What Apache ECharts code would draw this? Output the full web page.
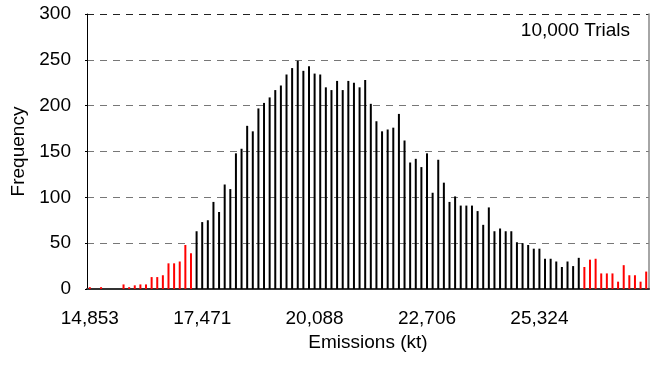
<!DOCTYPE html>
<html>
<head>
<meta charset="utf-8">
<script src="https://cdn.jsdelivr.net/npm/echarts@6/dist/echarts.min.js"></script>
<style>
	html, body { margin: 0; padding: 0; background: #fff; }
	#chart { width: 663px; height: 365px; }
</style>
</head>
<body>
<div id="chart"></div>
<script>
	// bins 0-18 (red lower tail)
	var lowTail = [2, 0, 2, 0, 0, 0, 5, 2, 4, 5, 5, 13, 13, 15, 28, 28, 30, 48, 39];
	// bins 19-87 (black core)
	var core = [63, 73, 75, 95, 84, 114, 109, 148, 153, 178,
		172, 197, 203, 209, 217, 222, 234, 241, 249, 238,
		243, 235, 234, 220, 217, 227, 217, 227, 225, 220,
		228, 202, 183, 172, 174, 176, 191, 162, 138, 142,
		133, 148, 105, 141, 116, 95, 101, 91, 91, 91,
		85, 70, 89, 63, 66, 63, 63, 51, 50, 48,
		44, 44, 33, 33, 30, 24, 30, 25, 34];
	// bins 88-99 (red upper tail)
	var highTail = [24, 32, 33, 17, 17, 17, 8, 26, 15, 15, 8, 19];
	var tickLabels = ['14,853', '17,471', '20,088', '22,706', '25,324'];

	var nBins = lowTail.length + core.length + highTail.length;
	var bins = [];
	for (var i = 0; i < nBins; i++) {
		bins.push(i);
	}
	var redData = [];
	var blackData = [];
	for (var i = 0; i < nBins; i++) {
		if (i < lowTail.length) {
			redData.push(lowTail[i]);
			blackData.push('-');
		} else if (i < lowTail.length + core.length) {
			redData.push('-');
			blackData.push(core[i - lowTail.length]);
		} else {
			redData.push(highTail[i - lowTail.length - core.length]);
			blackData.push('-');
		}
	}

	var font = 'Liberation Sans, Arial, sans-serif';
	var fs = 19;
	var myChart = echarts.init(document.getElementById('chart'));
	var option = {
		animation: false,
		textStyle: { fontFamily: font },
		grid: { left: 87, right: 14, top: 14, bottom: 76 },
		graphic: [{
			type: 'text',
			x: 630,
			y: 31,
			style: {
				text: '10,000 Trials',
				fontFamily: font,
				fontSize: fs,
				fill: '#000',
				align: 'right',
				verticalAlign: 'middle'
			}
		}],
		xAxis: {
			type: 'category',
			data: bins,
			boundaryGap: true,
			name: 'Emissions (kt)',
			nameLocation: 'middle',
			nameGap: 43,
			nameTextStyle: { fontFamily: font, fontSize: fs, color: '#000' },
			axisLine: { lineStyle: { color: '#333', width: 2 } },
			axisTick: {
				inside: true,
				length: 4,
				interval: function (index) { return index % 10 === 0; },
				lineStyle: { color: '#999' }
			},
			axisLabel: {
				interval: function (index) { return index % 20 === 0; },
				formatter: function (v, index) { return tickLabels[index / 20] || ''; },
				margin: 20,
				fontFamily: font,
				fontSize: fs,
				color: '#000'
			},
			splitLine: { show: false }
		},
		yAxis: [{
			type: 'value',
			min: 0,
			max: 300,
			interval: 50,
			name: 'Frequency',
			nameLocation: 'middle',
			nameGap: 56,
			nameTextStyle: { fontFamily: font, fontSize: fs, color: '#000' },
			axisLine: { show: true, lineStyle: { color: '#000', width: 1 } },
			axisTick: { show: true, length: 2, lineStyle: { color: '#000' } },
			axisLabel: { margin: 16, fontFamily: font, fontSize: fs, color: '#000' },
			splitLine: {
				show: true,
				lineStyle: {
					color: ['#777', '#777', '#777', '#777', '#777', '#777', '#222'],
					type: [7, 6]
				}
			}
		}, {
			type: 'value',
			position: 'right',
			min: 0,
			max: 300,
			interval: 50,
			axisLine: { show: true, lineStyle: { color: '#888', width: 1.5 } },
			axisTick: { show: false },
			axisLabel: { show: false },
			splitLine: { show: false }
		}],
		series: [{
			name: 'tail',
			type: 'bar',
			data: redData,
			barWidth: 2,
			barGap: '-100%',
			itemStyle: { color: '#ff0000' }
		}, {
			name: 'core',
			type: 'bar',
			data: blackData,
			barWidth: 2,
			barGap: '-100%',
			itemStyle: { color: '#000000' }
		}]
	};
	option && myChart.setOption(option);
</script>
</body>
</html>
